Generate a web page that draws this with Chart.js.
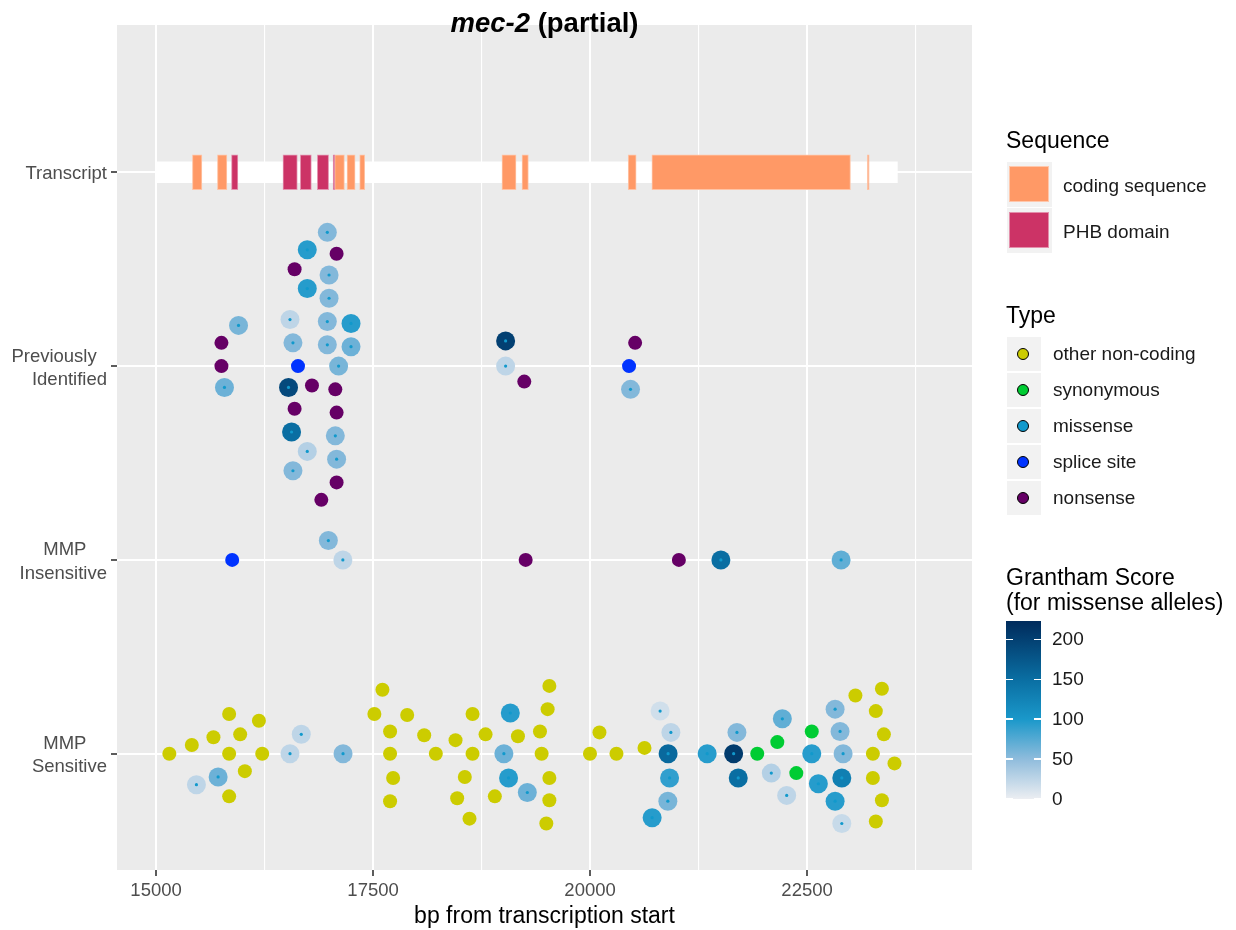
<!DOCTYPE html>
<html>
<head>
<meta charset="utf-8">
<script src="https://cdn.jsdelivr.net/npm/chart.js@4.4.1/dist/chart.umd.min.js"></script>
<style>
  body { margin: 0; background: #fff; font-family: "Liberation Sans", Arial, sans-serif; }
  #wrap { position: relative; width: 1236px; height: 930px; }
  #title { position: absolute; left: 117px; width: 855px; top: 7px; line-height: 32px; text-align: center; font-size: 27.5px; font-weight: bold; color: #000; }
  #legend div { position: absolute; }
</style>
</head>
<body>
<div id="wrap">
  <canvas id="graph" width="1236" height="930"></canvas>
  <div id="title"><i>mec-2</i> (partial)</div>
  <div id="legend"></div>
</div>
<script>
// y levels (bottom to top)
const yLevels = [1, 2, 3, 4];
const yLabels = [['MMP    ', 'Sensitive'], ['MMP    ', 'Insensitive'], ['Previously  ', 'Identified'], 'Transcript'];
const xTickValues = [15000, 16250, 17500, 18750, 20000, 21250, 22500, 23750];

// transcript
const transcriptStart = 15000;
const transcriptEnd = 23540;
const codingStarts = [15419, 15707, 17058, 17200, 17346, 18985, 19216, 20439, 20712, 23193];
const codingEnds   = [15528, 15816, 17170, 17293, 17404, 19147, 19289, 20531, 23000, 23216];
const phbStarts = [15869, 16462, 16662, 16858, 17039];
const phbEnds   = [15943, 16627, 16789, 16988, 17058];

// other non-coding
const otherX = [15153, 15412, 15661, 15842, 15969, 16185, 15842, 16223, 16023, 15842,
  17608, 17515, 17893, 17696, 18089, 17696, 18223, 17731, 17696,
  18646, 18450, 18796, 18646, 18557, 18469, 18611, 18903, 19169,
  19531, 19511, 19423, 19442, 19531, 19531, 19496, 20108, 19999, 20304, 20627,
  23057, 23362, 23292, 23385, 23258, 23507, 23258, 23362, 23292];
const otherY = [1.00, 1.045, 1.085, 1.205, 1.10, 1.17, 1.00, 1.00, 0.91, 0.78,
  1.33, 1.205, 1.20, 1.115, 1.095, 1.00, 1.00, 0.875, 0.755,
  1.205, 1.07, 1.10, 1.00, 0.88, 0.77, 0.665, 0.78, 1.09,
  1.35, 1.23, 1.115, 1.00, 0.875, 0.76, 0.64, 1.11, 1.00, 1.00, 1.03,
  1.30, 1.335, 1.22, 1.10, 1.00, 0.95, 0.875, 0.76, 0.65];

// synonymous
const synX = [21926, 22157, 22376, 22554];
const synY = [1.00, 1.06, 0.90, 1.115];

// splice site
const spliceX = [16635, 20449, 15877];
const spliceY = [3.00, 3.00, 2.00];

// nonsense
const nonsenseX = [17080, 16596, 15753, 15753, 16796, 17065, 16596, 17080, 17080, 16904, 19242, 20519, 19258, 21023];
const nonsenseY = [3.58, 3.50, 3.12, 3.00, 2.90, 2.88, 2.78, 2.76, 2.40, 2.31, 2.92, 3.12, 2.00, 2.00];

// missense
const missenseX = [16973, 16742, 16993, 16742, 16993, 15950, 16543, 16973, 17246, 16577, 16973, 17246, 17103,
  15788, 16526, 16561, 17065, 16742, 17080, 16577, 19027, 19027, 20466,
  16985, 17152, 21507, 22892,
  15465, 15715, 16673, 16543, 17154, 19081, 19007, 19061, 19277,
  20807, 20931, 20899, 20916, 20896, 20715, 21349, 21692, 21654, 21707,
  22215, 22088, 22265, 22554, 22630, 22823, 22880, 22915, 22900, 22823, 22900];
const missenseY = [3.69, 3.60, 3.47, 3.40, 3.35, 3.21, 3.24, 3.23, 3.22, 3.12, 3.11, 3.10, 3.00,
  2.89, 2.89, 2.66, 2.64, 2.56, 2.52, 2.46, 3.13, 3.00, 2.88,
  2.10, 2.00, 2.00, 2.00,
  0.84, 0.88, 1.10, 1.00, 1.00, 1.21, 1.00, 0.875, 0.80,
  1.22, 1.11, 1.00, 0.875, 0.755, 0.67, 1.00, 1.11, 1.00, 0.875,
  1.18, 0.90, 0.785, 1.00, 0.845, 1.23, 1.115, 1.00, 0.875, 0.755, 0.64];
const missenseGrantham = [55, 95, 55, 95, 55, 60, 25, 55, 95, 55, 55, 65, 60,
  65, 190, 150, 55, 30, 55, 55, 200, 25, 55,
  55, 25, 150, 70,
  25, 65, 25, 25, 55, 95, 65, 95, 65,
  15, 25, 155, 90, 60, 95, 95, 55, 205, 150,
  70, 30, 25, 95, 95, 55, 55, 55, 130, 95, 20];

// legends
const seqNames = ['coding sequence', 'PHB domain'];
const typeNames = ['other non-coding', 'synonymous', 'missense', 'splice site', 'nonsense'];
const granthamTicks = [0, 50, 100, 150, 200];

const seqColors = ['#ff9966', '#cc3366'];
const typeColors = ['#cccc00', '#00cc33', '#1199cc', '#0033ff', '#660066'];
const gStops = [0, 50, 100, 150, 223];
const gColors = ['#eceef2', '#8fbcdc', '#1a98ca', '#0a6ea2', '#002b5c'];
const gMax = 223;

const fontFam = '"Liberation Sans", Arial, sans-serif';

function hexRgb(h) {
    return [parseInt(h.substr(1, 2), 16), parseInt(h.substr(3, 2), 16), parseInt(h.substr(5, 2), 16)];
}

function granthamColor(g) {
    for (let i = 0; i < gStops.length - 1; i++) {
        if (g <= gStops[i + 1]) {
            const t = (g - gStops[i]) / (gStops[i + 1] - gStops[i]);
            const a = hexRgb(gColors[i]), b = hexRgb(gColors[i + 1]);
            const c = a.map((v, k) => Math.round(v + (b[k] - v) * t));
            return `rgb(${c[0]},${c[1]},${c[2]})`;
        }
    }
    return gColors[gColors.length - 1];
}

function pts(xs, ys) {
    return xs.map((x, i) => ({ x: x, y: ys[i] }));
}

function segs(starts, ends) {
    return starts.map((s, i) => ({ x: [s, ends[i]], y: 4 }));
}

const panelBg = {
    id: 'panelBg',
    beforeDraw(chart) {
        const { ctx, chartArea: a } = chart;
        ctx.save();
        ctx.fillStyle = '#ebebeb';
        ctx.fillRect(a.left, a.top, a.right - a.left, a.bottom - a.top);
        ctx.restore();
    }
};

function generateChart() {
    const ctx = document.getElementById('graph').getContext('2d');
    new Chart(ctx, {
        type: 'scatter',
        data: {
            datasets: [{
                type: 'bar',
                indexAxis: 'y',
                data: [{ x: [transcriptStart, transcriptEnd], y: 4 }],
                backgroundColor: '#ffffff',
                barThickness: 21,
                grouped: false,
                order: 10
            }, {
                type: 'bar',
                indexAxis: 'y',
                data: segs(codingStarts, codingEnds),
                backgroundColor: seqColors[0],
                borderColor: '#ffc4a6',
                borderWidth: 1,
                borderSkipped: false,
                barThickness: 35,
                grouped: false,
                order: 9
            }, {
                type: 'bar',
                indexAxis: 'y',
                data: segs(phbStarts, phbEnds),
                backgroundColor: seqColors[1],
                borderColor: '#e394b0',
                borderWidth: 1,
                borderSkipped: false,
                barThickness: 35,
                grouped: false,
                order: 8
            }, {
                data: pts(otherX, otherY),
                backgroundColor: typeColors[0],
                borderWidth: 0,
                pointRadius: 7,
                order: 6
            }, {
                data: pts(missenseX, missenseY),
                backgroundColor: missenseGrantham.map(granthamColor),
                borderWidth: 0,
                pointRadius: 9.5,
                order: 5
            }, {
                data: pts(missenseX, missenseY),
                backgroundColor: typeColors[2],
                borderWidth: 0,
                pointRadius: 1.6,
                order: 4
            }, {
                data: pts(synX, synY),
                backgroundColor: typeColors[1],
                borderWidth: 0,
                pointRadius: 7,
                order: 3
            }, {
                data: pts(spliceX, spliceY),
                backgroundColor: typeColors[3],
                borderWidth: 0,
                pointRadius: 7,
                order: 2
            }, {
                data: pts(nonsenseX, nonsenseY),
                backgroundColor: typeColors[4],
                borderWidth: 0,
                pointRadius: 7,
                order: 1
            }]
        },
        options: {
            responsive: false,
            animation: false,
            events: [],
            layout: { padding: { top: 25, right: 264, bottom: 0, left: 0 } },
            plugins: {
                legend: { display: false },
                tooltip: { enabled: false }
            },
            scales: {
                x: {
                    type: 'linear',
                    min: 14550,
                    max: 24400,
                    offset: false,
                    beginAtZero: false,
                    afterBuildTicks: (scale) => { scale.ticks = xTickValues.map(v => ({ value: v })); },
                    afterFit: (scale) => { scale.height = 60; },
                    border: { display: false },
                    grid: {
                        color: '#ffffff',
                        lineWidth: (c) => (c.tick && c.tick.value % 2500 === 0) ? 2 : 1.1,
                        tickColor: (c) => (c.tick && c.tick.value % 2500 === 0) ? '#333333' : 'rgba(0,0,0,0)',
                        tickWidth: 1.6,
                        tickLength: 6,
                        offset: false
                    },
                    ticks: {
                        autoSkip: false,
                        maxRotation: 0,
                        padding: 4,
                        color: '#4d4d4d',
                        font: { family: fontFam, size: 18.5 },
                        callback: (v) => v % 2500 === 0 ? String(v) : ''
                    },
                    title: {
                        display: true,
                        text: 'bp from transcription start',
                        color: '#000000',
                        font: { family: fontFam, size: 23 },
                        padding: { top: 0, bottom: 0 }
                    }
                },
                y: {
                    type: 'linear',
                    min: 0.4,
                    max: 4.76,
                    offset: false,
                    beginAtZero: false,
                    afterBuildTicks: (scale) => { scale.ticks = yLevels.map(v => ({ value: v })); },
                    afterFit: (scale) => { scale.width = 117; },
                    border: { display: false },
                    grid: {
                        color: '#ffffff',
                        lineWidth: 2,
                        tickColor: '#333333',
                        tickWidth: 1.6,
                        tickLength: 6,
                        offset: false
                    },
                    ticks: {
                        autoSkip: false,
                        padding: 4,
                        labelOffset: 2,
                        color: '#4d4d4d',
                        font: { family: fontFam, size: 18.5, lineHeight: 1.25 },
                        callback: (v) => yLabels[yLevels.indexOf(v)]
                    }
                }
            }
        },
        plugins: [panelBg]
    });
}

function addDiv(css, html) {
    const d = document.createElement('div');
    d.style.cssText = css;
    if (html !== undefined) d.innerHTML = html;
    document.getElementById('legend').appendChild(d);
    return d;
}

function buildLegend() {
    const lab = 'font-size:19px;line-height:22px;color:#1a1a1a;white-space:nowrap;';
    const ttl = 'font-size:23px;line-height:26px;color:#000;white-space:nowrap;';
    // Sequence
    addDiv(`left:1006px;top:127px;${ttl}`, 'Sequence');
    seqNames.forEach((name, i) => {
        const top = 162 + i * 46;
        addDiv(`left:1007px;top:${top}px;width:45px;height:45px;background:#f2f2f2;`);
        addDiv(`left:1009px;top:${top + 4}px;width:40px;height:36px;background:${seqColors[i]};border:1px solid rgba(255,255,255,0.45);box-sizing:border-box;`);
        addDiv(`left:1063px;top:${top + 24 - 11}px;${lab}`, name);
    });
    // Type
    addDiv(`left:1006px;top:302px;${ttl}`, 'Type');
    typeNames.forEach((name, i) => {
        const top = 337 + i * 36;
        addDiv(`left:1007px;top:${top}px;width:34px;height:34px;background:#f2f2f2;`);
        addDiv(`left:1017px;top:${top + 11}px;width:12px;height:12px;border-radius:50%;background:${typeColors[i]};border:1px solid #000;box-sizing:border-box;`);
        addDiv(`left:1053px;top:${top + 17 - 11}px;${lab}`, name);
    });
    // Grantham colour bar
    addDiv('left:1006px;top:565px;font-size:23px;line-height:24.5px;color:#000;white-space:nowrap;', 'Grantham Score<br>(for missense alleles)');
    const barTop = 621, barH = 178;
    const grad = gStops.map((v, i) => `${gColors[i]} ${(v / gMax * 100).toFixed(1)}%`).join(',');
    addDiv(`left:1006px;top:${barTop}px;width:35px;height:${barH}px;background:linear-gradient(to top,${grad});`);
    granthamTicks.forEach((v) => {
        const y = barTop + (gMax - v) / gMax * barH;
        addDiv(`left:1006px;top:${y - 0.75}px;width:7px;height:1.5px;background:#fff;`);
        addDiv(`left:1034px;top:${y - 0.75}px;width:7px;height:1.5px;background:#fff;`);
        addDiv(`left:1052px;top:${y - 11}px;${lab}`, String(v));
    });
}

document.addEventListener('DOMContentLoaded', function () {
    generateChart();
    buildLegend();
});
</script>
</body>
</html>
